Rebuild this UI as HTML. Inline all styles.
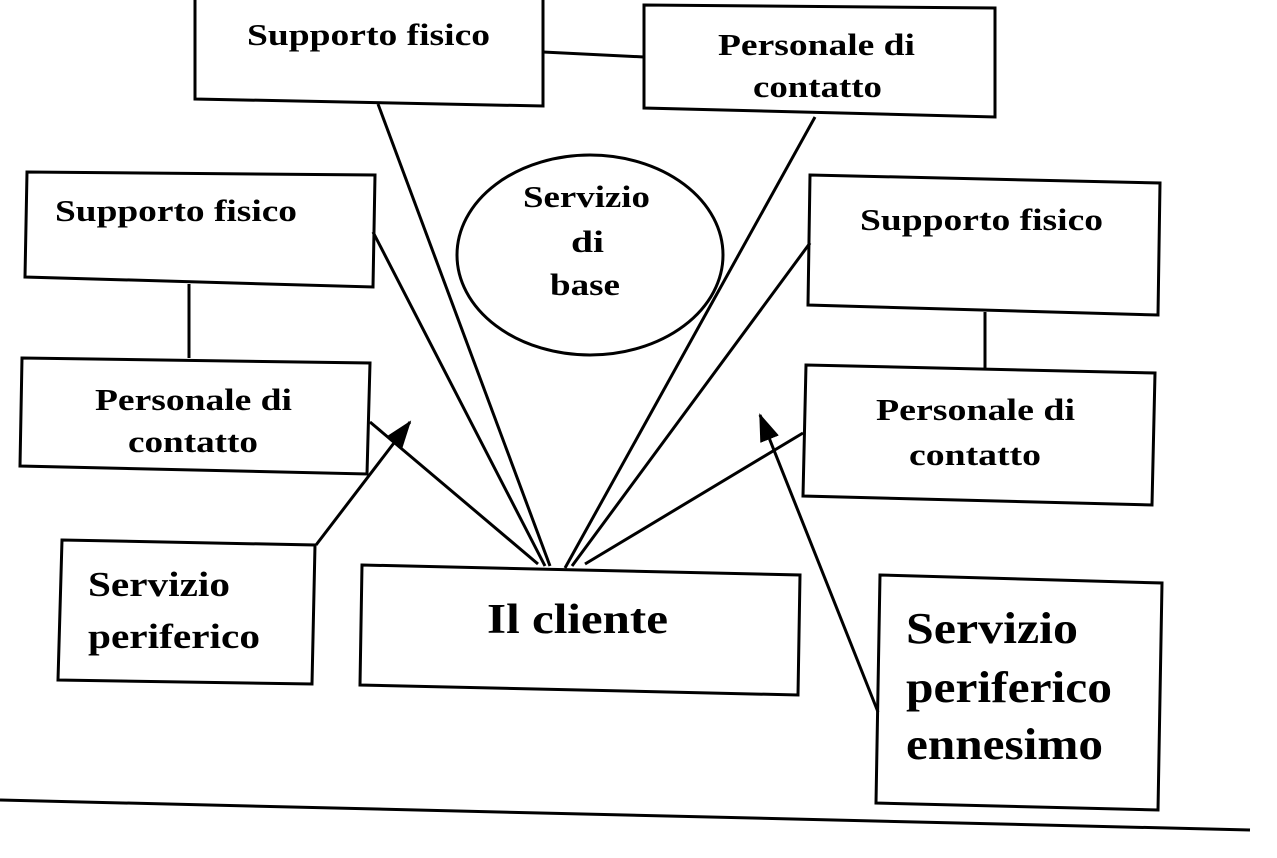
<!DOCTYPE html>
<html><head><meta charset="utf-8"><style>
html,body{margin:0;padding:0;background:#fff}
svg{display:block}
text{font-family:"Liberation Serif",serif;font-weight:bold;fill:#000}
</style></head><body>
<svg width="1277" height="858" viewBox="0 0 1277 858" xmlns="http://www.w3.org/2000/svg">
<defs>
<marker id="ah2" markerWidth="28" markerHeight="28" refX="26" refY="14" orient="auto" markerUnits="userSpaceOnUse" viewBox="0 0 28 28"><path d="M0,4 L28,14 L0,24 z" fill="#000"/></marker></defs>
<g fill="none" stroke="#000" stroke-width="3">
<polygon points="195,-5 543,-3 543,106 195,99"/>
<polygon points="644,5 995,8 995,117 644,108"/>
<line x1="543" y1="52" x2="644" y2="57"/>
<polygon points="27,172 375,175 373,287 25,277"/>
<polygon points="22,358 370,363 367,474 20,466"/>
<line x1="189" y1="284" x2="189" y2="358"/>
<ellipse cx="590" cy="255" rx="133" ry="100"/>
<polygon points="810,175 1160,183 1158,315 808,305"/>
<polygon points="806,365 1155,373 1152,505 803,496"/>
<line x1="985" y1="312" x2="985" y2="368"/>
<polygon points="62,540 315,545 312,684 58,680"/>
<polygon points="362,565 800,575 798,695 360,685"/>
<polygon points="880,575 1162,583 1158,810 876,803"/>
<line x1="378" y1="104" x2="550" y2="566"/>
<line x1="815" y1="117" x2="565" y2="568"/>
<line x1="373" y1="232" x2="545" y2="566"/>
<line x1="810" y1="243" x2="572" y2="566"/>
<line x1="370" y1="422" x2="538" y2="564"/>
<line x1="803" y1="433" x2="585" y2="564"/>
<line x1="316" y1="545" x2="410" y2="422" marker-end="url(#ah2)"/>
<line x1="878" y1="712" x2="760" y2="415" marker-end="url(#ah2)"/>
<line x1="0" y1="800" x2="1250" y2="830"/>
</g>
<g font-size="31" lengthAdjust="spacingAndGlyphs">
<text x="247" y="45" textLength="243" lengthAdjust="spacingAndGlyphs">Supporto fisico</text>
<text x="718" y="55" textLength="197" lengthAdjust="spacingAndGlyphs">Personale di</text>
<text x="753" y="97" textLength="129" lengthAdjust="spacingAndGlyphs">contatto</text>
<text x="55" y="221" textLength="242" lengthAdjust="spacingAndGlyphs">Supporto fisico</text>
<text x="95" y="410" textLength="197" lengthAdjust="spacingAndGlyphs">Personale di</text>
<text x="128" y="452" textLength="130" lengthAdjust="spacingAndGlyphs">contatto</text>
<text x="523" y="207" textLength="127" lengthAdjust="spacingAndGlyphs">Servizio</text>
<text x="571" y="252" textLength="33" lengthAdjust="spacingAndGlyphs">di</text>
<text x="550" y="295" textLength="70" lengthAdjust="spacingAndGlyphs">base</text>
<text x="860" y="230" textLength="243" lengthAdjust="spacingAndGlyphs">Supporto fisico</text>
<text x="876" y="420" textLength="199" lengthAdjust="spacingAndGlyphs">Personale di</text>
<text x="909" y="465" textLength="132" lengthAdjust="spacingAndGlyphs">contatto</text>
</g>
<text x="88" y="596" font-size="35" textLength="142" lengthAdjust="spacingAndGlyphs">Servizio</text>
<text x="88" y="648" font-size="35" textLength="172" lengthAdjust="spacingAndGlyphs">periferico</text>
<text x="487" y="633" font-size="42" textLength="181" lengthAdjust="spacingAndGlyphs">Il cliente</text>
<text x="906" y="643" font-size="44" textLength="172" lengthAdjust="spacingAndGlyphs">Servizio</text>
<text x="906" y="702" font-size="44" textLength="206" lengthAdjust="spacingAndGlyphs">periferico</text>
<text x="906" y="759" font-size="44" textLength="197" lengthAdjust="spacingAndGlyphs">ennesimo</text>
</svg>
</body></html>
